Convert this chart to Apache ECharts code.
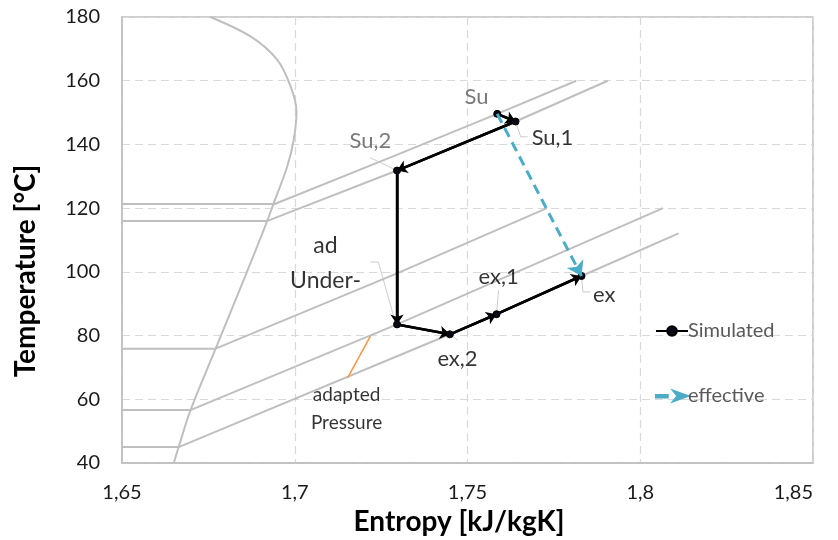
<!DOCTYPE html>
<html>
<head>
<meta charset="utf-8">
<script src="https://cdn.jsdelivr.net/npm/echarts@6/dist/echarts.min.js"></script>
<style>html,body{margin:0;padding:0;background:#fff}#c{width:838px;height:540px}</style>
</head>
<body>
<div id="c"></div>
<script>
// ---- data ----
const xTicks = [1.65, 1.70, 1.75, 1.80, 1.85];
const yTicks = [40, 60, 80, 100, 120, 140, 160, 180];

// simulated cycle (entropy, temperature)
const simS = [1.7586, 1.7639, 1.7296, 1.7296, 1.7449, 1.7584, 1.7830];
const simT = [149.6, 147.2, 131.8, 83.5, 80.4, 86.7, 98.7];

// effective expansion
const effS = [1.7586, 1.7830];
const effT = [149.6, 98.7];

// saturation dome
const domeS = [1.6756, 1.6872, 1.6949, 1.6988, 1.7005, 1.6997, 1.6978, 1.6939, 1.6910, 1.6852, 1.6771, 1.6698, 1.6664, 1.6650];
const domeT = [180, 173.9, 166.6, 158.2, 150.3, 141.4, 133.0, 121.5, 113.1, 97.4, 75.9, 56.5, 45.0, 40];

// isobars
const iso1S = [1.65, 1.6942, 1.7306, 1.7586, 1.7815];
const iso1T = [121.3, 121.3, 137.2, 149.6, 160];
const iso2S = [1.65, 1.6921, 1.7296, 1.7639, 1.7906];
const iso2T = [116, 116, 131.8, 147.2, 160];
const iso3S = [1.65, 1.6771, 1.7296, 1.7730];
const iso3T = [75.9, 75.9, 99.5, 120];
const iso4S = [1.65, 1.6698, 1.7296, 1.8066];
const iso4T = [56.6, 56.6, 83.5, 120];
const iso5S = [1.65, 1.6664, 1.7449, 1.7584, 1.7830, 1.8111];
const iso5T = [45, 45, 80.4, 86.7, 98.7, 112.1];

// under-adapted pressure marker (orange)
const adaptS = [1.7219, 1.7153];
const adaptT = [79.8, 66.7];

// annotation labels
const labelText = ['Su', 'Su,1', 'Su,2', 'ad\nUnder-', 'adapted\nPressure', 'ex,1', 'ex', 'ex,2'];
const labelS = [1.7526, 1.7746, 1.7219, 1.7089, 1.7150, 1.7590, 1.7896, 1.7471];
const labelT = [154.9, 142.1, 141.1, 102.6, 56.9, 98.4, 92.7, 72.6];

// leader lines for labels
const leaderS = [[1.7639, 1.7654, 1.7674], [1.7219, 1.7296], [1.7219, 1.7242, 1.7291], [1.7590, 1.7584], [1.7830, 1.7834, 1.7855], [1.7449, 1.7472]];
const leaderT = [[147.2, 142.4, 142.4], [135.8, 131.8], [103.1, 103.1, 84.2], [94.2, 86.7], [98.7, 93.7, 93.7], [80.4, 78.5]];

// ---- build ----
const zip = (a, b) => a.map((v, i) => [v, b[i]]);
const FONT = 'Lato, "Open Sans", sans-serif';
const gray = '#BFBFBF';

const labelColors = ['#595959', '#000', '#595959', '#000', '#000', '#000', '#000', '#000'];
const labelSizes = [22, 22, 22, 23, 19, 22, 22, 22];
const labelLH = [22, 22, 22, 35, 28, 22, 22, 22];

const isoSeries = [[iso1S, iso1T], [iso2S, iso2T], [iso3S, iso3T], [iso4S, iso4T], [iso5S, iso5T]].map((p, i) => ({
  name: 'iso' + (i + 1), type: 'line', data: zip(p[0], p[1]), symbol: 'none', silent: true,
  lineStyle: { color: gray, width: 2 }, z: 1, animation: false
}));

const simPts = zip(simS, simT);
const simSegs = simPts.slice(1).map((p, i) => ({ coords: [simPts[i], p] }));

const option = {
  animation: false,
  grid: { left: 122, right: 25, top: 17, bottom: 77, show: true, borderColor: gray, borderWidth: 1.5 },
  xAxis: {
    type: 'value', min: xTicks[0], max: xTicks[xTicks.length - 1], interval: 0.05,
    axisLine: { show: true, lineStyle: { color: gray, width: 1.5 } },
    axisTick: { show: false },
    axisLabel: {
      margin: 20, fontSize: 20, color: '#1a1a1a', fontFamily: FONT, alignMaxLabel: 'right',
      formatter: v => String(+v.toFixed(2)).replace('.', ',')
    },
    splitLine: { show: true, lineStyle: { color: '#D9D9D9', width: 1.2, type: [8, 5] } }
  },
  yAxis: {
    type: 'value', min: yTicks[0], max: yTicks[yTicks.length - 1], interval: 20,
    axisLine: { show: true, lineStyle: { color: gray, width: 1.5 } },
    axisTick: { show: false },
    axisLabel: { margin: 22, fontSize: 20, color: '#1a1a1a', fontFamily: FONT },
    splitLine: { show: true, lineStyle: { color: '#D9D9D9', width: 1.2, type: [8, 5] } }
  },
  legend: {
    orient: 'vertical', left: 650, top: 316, itemGap: 45, itemWidth: 32, itemHeight: 12,
    textStyle: { fontSize: 20, color: '#595959', fontFamily: FONT, padding: [0, 0, 0, -5] },
    data: [
      { name: 'Simulated' },
      { name: 'effective', icon: 'path://M0,4 L11,4 L11,6.5 L0,6.5 Z M16,0 L30,5 L16,10 L20,5 Z', itemStyle: { color: '#4BACC6' } }
    ]
  },
  graphic: [
    { type: 'text', x: 459, y: 522, style: { text: 'Entropy [kJ/kgK]', font: 'bold 28px ' + FONT, fill: '#000', align: 'center', verticalAlign: 'middle' } },
    { type: 'text', x: 26, y: 271, rotation: Math.PI / 2, style: { text: 'Temperature [°C]', font: 'bold 28px ' + FONT, fill: '#000', align: 'center', verticalAlign: 'middle' } }
  ],
  series: [
    { name: 'dome', type: 'line', data: zip(domeS, domeT), symbol: 'none', smooth: 0.3, silent: true, lineStyle: { color: gray, width: 2 }, z: 1 },
    ...isoSeries,
    { name: 'adapt', type: 'line', data: zip(adaptS, adaptT), symbol: 'none', silent: true, lineStyle: { color: '#F79646', width: 1.5 }, z: 2 },
    {
      name: 'leaders', type: 'lines', coordinateSystem: 'cartesian2d', polyline: true, silent: true, z: 2,
      lineStyle: { color: '#BFBFBF', width: 0.8, opacity: 1 },
      data: leaderS.map((s, i) => ({ coords: zip(s, leaderT[i]) }))
    },
    {
      name: 'Simulated', type: 'line', data: simPts, symbol: 'circle', symbolSize: 7,
      itemStyle: { color: '#0a0a14', borderColor: '#000', borderWidth: 1 },
      lineStyle: { color: '#000', width: 2.5 }, z: 5
    },
    {
      name: 'simArrows', type: 'lines', coordinateSystem: 'cartesian2d', z: 5, silent: true,
      symbol: ['none', 'arrow'], symbolSize: 10,
      lineStyle: { color: '#000', width: 2.5, opacity: 1 }, data: simSegs
    },
    {
      name: 'effective', type: 'lines', coordinateSystem: 'cartesian2d', z: 6, silent: true,
      symbol: ['none', 'arrow'], symbolSize: 14,
      itemStyle: { color: '#4BACC6' },
      lineStyle: { color: '#4BACC6', width: 3, type: [10, 6], opacity: 1 },
      data: [{ coords: zip(effS, effT) }]
    },
    {
      name: 'labels', type: 'scatter', symbolSize: 0, silent: true, z: 7,
      data: labelText.map((t, i) => ({
        value: [labelS[i], labelT[i]], name: t,
        label: { show: true, position: 'inside', formatter: '{b}', color: labelColors[i], fontSize: labelSizes[i], lineHeight: labelLH[i], fontFamily: FONT, align: 'center', verticalAlign: 'middle' }
      }))
    }
  ]
};

echarts.init(document.getElementById('c'), null, { renderer: 'canvas' }).setOption(option);
</script>
</body>
</html>
